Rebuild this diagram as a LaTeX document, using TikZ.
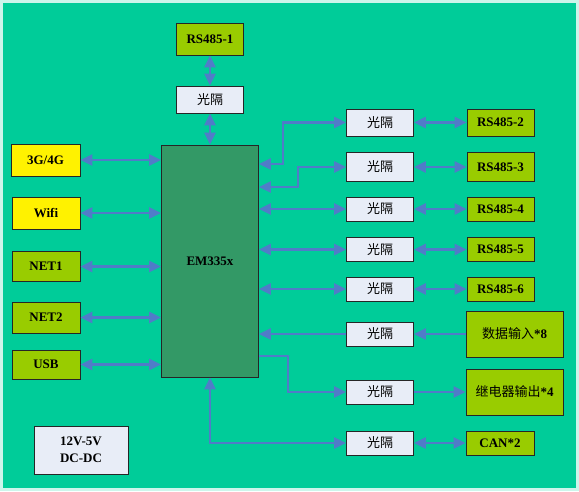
\documentclass[tikz,border=0pt]{standalone}
\usepackage{fontspec}
\setmainfont{Liberation Serif}
\newfontfamily\cjk{Noto Sans CJK SC}
\usetikzlibrary{arrows.meta}
\definecolor{bggreen}{RGB}{0,204,153}
\definecolor{boxgreen}{RGB}{153,204,0}
\definecolor{cpugreen}{RGB}{51,153,102}
\definecolor{isoblue}{RGB}{232,237,247}
\definecolor{linkblue}{RGB}{80,124,200}
\begin{document}
\begin{tikzpicture}[x=1pt,y=-1pt,
	box/.style={draw=black!85, line width=0.8pt, inner sep=0pt, font=\fontsize{13}{17}\selectfont\bfseries},
	grn/.style={box, fill=boxgreen, minimum width=68pt, minimum height=30pt},
	ylw/.style={box, fill=yellow, minimum width=68pt, minimum height=32pt},
	iso/.style={box, fill=isoblue, minimum width=67pt, minimum height=24pt, font=\fontsize{13}{15}\selectfont\cjk},
	link/.style={draw=linkblue, line width=2.5pt, -{Triangle[length=12pt,width=11pt]}},
	dlink/.style={link, {Triangle[length=12pt,width=11pt]}-{Triangle[length=12pt,width=11pt]}}]
	\useasboundingbox (0,0) rectangle (579,491);
	\fill[color=bggreen!20] (0,0) rectangle (579,491);
	\fill[color=bggreen] (2.5,2.5) rectangle (576,488);

	% main board
	\node[box, fill=cpugreen, minimum width=97pt, minimum height=232pt] (em) at (210,261) {EM335x};

	% top
	\node[grn, minimum width=67pt, minimum height=32pt] (rs1) at (210,39) {RS485-1};
	\node[iso, minimum height=27pt] (iso1) at (210,99.5) {光隔};

	% left
	\node[ylw, minimum width=69pt] (g34) at (45.5,160) {3G/4G};
	\node[ylw] (wifi) at (46,213) {Wifi};
	\node[grn] (net1) at (46,266.5) {NET1};
	\node[grn, minimum height=31pt] (net2) at (46,317.5) {NET2};
	\node[grn, minimum height=29pt] (usb) at (46,364.5) {USB};
	\node[box, fill=isoblue, minimum width=94pt, minimum height=48pt, align=center] (dcdc) at (81,450) {12V-5V\\DC-DC};

	% right
	\node[iso, minimum height=27pt] (iso2) at (380,122.5) {光隔};
	\node[iso, minimum height=29pt] (iso3) at (380,167) {光隔};
	\node[iso] (iso4) at (380,209) {光隔};
	\node[iso] (iso5) at (380,249.5) {光隔};
	\node[iso] (iso6) at (380,289) {光隔};
	\node[iso] (isod) at (380,334) {光隔};
	\node[iso] (isor) at (380,392) {光隔};
	\node[iso] (isoc) at (380,443) {光隔};

	\node[grn, minimum width=67pt, minimum height=27pt] (rs2) at (500.5,122.5) {RS485-2};
	\node[grn, minimum width=67pt, minimum height=29pt] (rs3) at (500.5,167) {RS485-3};
	\node[grn, minimum width=67pt, minimum height=24pt] (rs4) at (500.5,209) {RS485-4};
	\node[grn, minimum width=67pt, minimum height=24pt] (rs5) at (500.5,249.5) {RS485-5};
	\node[grn, minimum width=67pt, minimum height=24pt] (rs6) at (500.5,289) {RS485-6};
	\node[grn, minimum width=97pt, minimum height=46pt] (din) at (514.5,334) {{\cjk\mdseries 数据输入}*8};
	\node[grn, minimum width=97pt, minimum height=46pt] (relay) at (514.5,392) {{\cjk\mdseries 继电器输出}*4};
	\node[grn, minimum width=68pt, minimum height=24pt] (can) at (500,443) {CAN*2};

	% links
	\draw[dlink] (rs1) -- (iso1);
	\draw[dlink] (iso1) -- (em);
	\foreach \n in {g34,wifi,net1,net2,usb}
		\draw[dlink] (\n.east) -- (\n.east -| em.west);

	\draw[dlink] (em.east |- 0,164) -- (283,164) |- (iso2);
	\draw[dlink] (em.east |- 0,187) -- (298,187) |- (iso3);
	\foreach \n in {4,5,6}
		\draw[dlink] (em.east |- iso\n) -- (iso\n);
	\foreach \n in {2,...,6}
		\draw[dlink] (iso\n) -- (rs\n);
	\draw[link] (isod) -- (em.east |- isod);
	\draw[link] (din) -- (isod);
	\draw[link] (em.east |- 0,356) -- (288,356) |- (isor);
	\draw[link] (isor) -- (relay);
	\draw[dlink] (em.south) |- (isoc);
	\draw[dlink] (isoc) -- (can);
\end{tikzpicture}
\end{document}
